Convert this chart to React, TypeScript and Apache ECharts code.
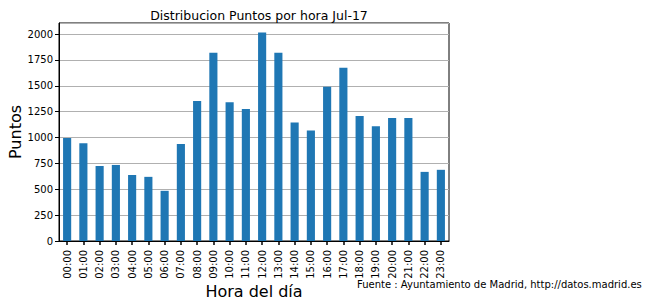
import React, { useEffect, useRef } from "react";
import * as echarts from "echarts";

const hours = ["00:00","01:00","02:00","03:00","04:00","05:00","06:00","07:00","08:00","09:00","10:00","11:00","12:00","13:00","14:00","15:00","16:00","17:00","18:00","19:00","20:00","21:00","22:00","23:00"];
const puntos = [995, 945, 725, 735, 638, 620, 485, 937, 1352, 1820, 1341, 1275, 2015, 1820, 1146, 1068, 1490, 1675, 1207, 1110, 1188, 1188, 668, 688];
const yTicks = [0, 250, 500, 750, 1000, 1250, 1500, 1750, 2000];

const FONT = "DejaVu Sans";

export default function App() {
  const ref = useRef<HTMLDivElement>(null);
  useEffect(() => {
    if (!ref.current) return;
    const chart = echarts.init(ref.current, undefined, { renderer: "svg" });
    chart.setOption({
      animation: false,
      backgroundColor: "#fff",
      title: {
        text: "Distribucion Puntos por hora Jul-17",
        left: 254,
        top: 4,
        textAlign: "center",
        textStyle: { fontFamily: FONT, fontSize: 12.5, fontWeight: "normal", color: "#000" },
      },
      grid: {
        left: 59, top: 23, width: 390, height: 218,
        outerBoundsMode: "none",
        containLabel: false,
        show: true, borderColor: "#000", borderWidth: 1, backgroundColor: "transparent",
      },
      xAxis: {
        type: "category",
        data: hours,
        name: "Hora del día",
        nameLocation: "middle",
        nameGap: 42,
        nameMoveOverlap: false,
        nameTextStyle: { fontFamily: FONT, fontSize: 16, color: "#000" },
        axisLine: { show: true, lineStyle: { color: "#000", width: 1 } },
        axisTick: { show: true, alignWithLabel: true, length: 4, lineStyle: { color: "#000", width: 1.5 } },
        axisLabel: { rotate: 90, fontFamily: FONT, fontSize: 10, color: "#000", margin: 9, interval: 0 },
        splitLine: { show: false },
      },
      yAxis: {
        type: "value",
        min: 0,
        max: 2107,
        interval: 250,
        name: "Puntos",
        nameLocation: "middle",
        nameGap: 36,
        nameMoveOverlap: false,
        nameTextStyle: { fontFamily: FONT, fontSize: 16, color: "#000" },
        axisLine: { show: true, lineStyle: { color: "#000", width: 1 } },
        axisTick: { show: true, length: 4, lineStyle: { color: "#000", width: 1 } },
        axisLabel: {
          fontFamily: FONT, fontSize: 10, color: "#000", margin: 6,
          showMaxLabel: false,
          formatter: (v: number) => (yTicks.indexOf(v) >= 0 ? String(v) : ""),
        },
        splitLine: { show: true, lineStyle: { color: "#b0b0b0", width: 1 } },
      },
      series: [
        {
          type: "bar",
          data: puntos,
          barWidth: "50%",
          itemStyle: { color: "#1f77b4" },
        },
      ],
      graphic: [
        {
          type: "text",
          left: 357,
          top: 279,
          style: {
            text: "Fuente : Ayuntamiento de Madrid, http://datos.madrid.es",
            fontFamily: FONT,
            fontSize: 10,
            fill: "#000",
          },
        },
      ],
    });
    return () => chart.dispose();
  }, []);
  return <div ref={ref} style={{ width: 649, height: 305, position: "absolute", left: 0, top: 0 }} />;
}
